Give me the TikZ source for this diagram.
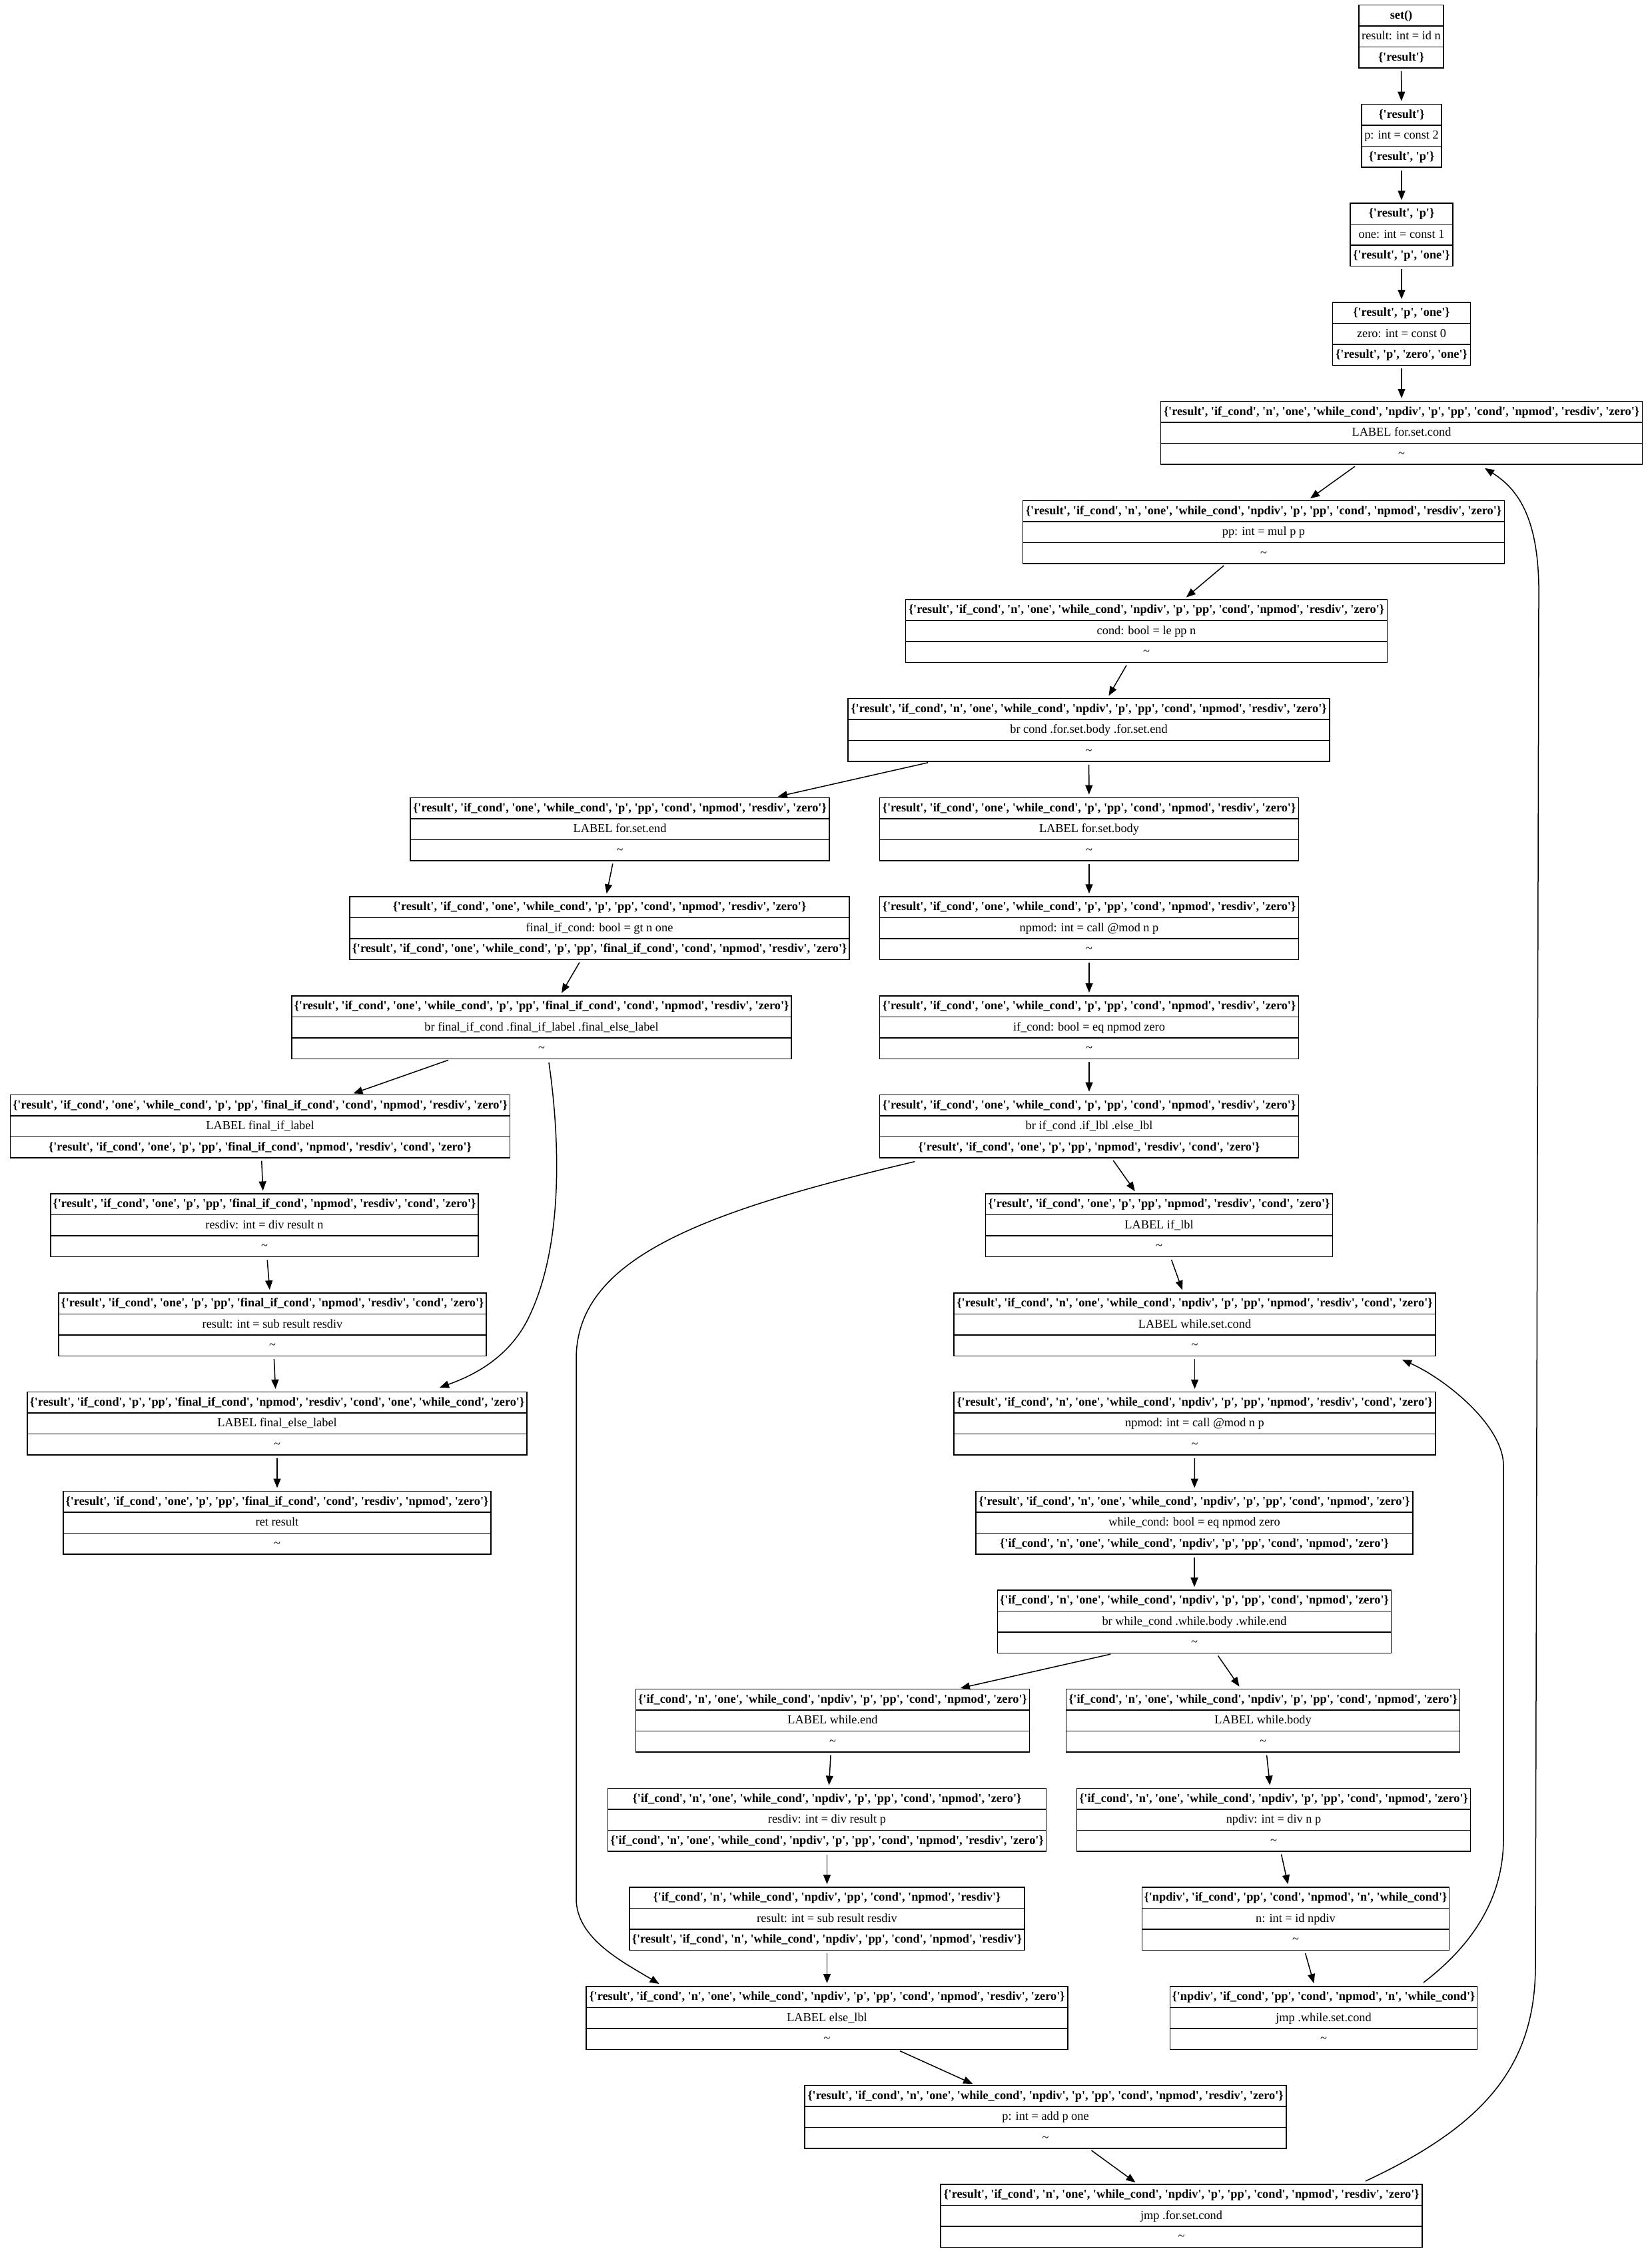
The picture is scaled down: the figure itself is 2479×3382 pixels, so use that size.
\documentclass[tikz,border=0pt]{standalone}
\usepackage{fontspec}
\newfontfamily\gv{Liberation Serif}
\usetikzlibrary{shapes.multipart,arrows.meta,calc}
\newcommand\st{\rule[-10pt]{0pt}{30pt}}
\newcommand\tld{\textasciitilde}
\newcommand\Sa{\{'result', 'if\_cond', 'n', 'one', 'while\_cond', 'npdiv', 'p', 'pp', 'cond', 'npmod', 'resdiv', 'zero'\}}
\newcommand\Sb{\{'result', 'if\_cond', 'one', 'while\_cond', 'p', 'pp', 'cond', 'npmod', 'resdiv', 'zero'\}}
\newcommand\Sc{\{'result', 'if\_cond', 'one', 'while\_cond', 'p', 'pp', 'final\_if\_cond', 'cond', 'npmod', 'resdiv', 'zero'\}}
\newcommand\Sd{\{'result', 'if\_cond', 'one', 'p', 'pp', 'final\_if\_cond', 'npmod', 'resdiv', 'cond', 'zero'\}}
\newcommand\Se{\{'result', 'if\_cond', 'one', 'p', 'pp', 'npmod', 'resdiv', 'cond', 'zero'\}}
\newcommand\Sf{\{'result', 'if\_cond', 'n', 'one', 'while\_cond', 'npdiv', 'p', 'pp', 'npmod', 'resdiv', 'cond', 'zero'\}}
\newcommand\Sg{\{'if\_cond', 'n', 'one', 'while\_cond', 'npdiv', 'p', 'pp', 'cond', 'npmod', 'zero'\}}
\newcommand\Sh{\{'npdiv', 'if\_cond', 'pp', 'cond', 'npmod', 'n', 'while\_cond'\}}
\newcommand\blk[7]{\node[rec, minimum width=#4pt] (#1) at (#2,{55+148.7*#3}) {\bfseries\st #5\nodepart{two}\mdseries\st #6\nodepart{three}\mdseries\st #7};}
\tikzset{
  rec/.style={draw, line width=1.5pt, rectangle split, rectangle split parts=3,
    inner xsep=3pt, inner ysep=0pt, font=\gv\fontsize{18.3}{22}\selectfont},
  edge/.style={-{Triangle[length=14pt,width=11pt]}, line width=1.5pt},
  sedge/.style={edge, shorten <=4pt, shorten >=4pt}
}
\begin{document}
\begin{tikzpicture}[x=1pt,y=-1pt]
\useasboundingbox (0,0) rectangle (2479,3382);
\fill[white] (0,0) rectangle (2479,3382);
\blk{n1}{2103.5}{0}{127}{set()}{result: int = id n}{\bfseries\{'result'\}}
\blk{n2}{2104}{1}{120}{\{'result'\}}{p: int = const 2}{\bfseries\{'result', 'p'\}}
\blk{n3}{2104}{2}{154}{\{'result', 'p'\}}{one: int = const 1}{\bfseries\{'result', 'p', 'one'\}}
\blk{n4}{2104}{3}{207}{\{'result', 'p', 'one'\}}{zero: int = const 0}{\bfseries\{'result', 'p', 'zero', 'one'\}}
\blk{forcond}{2104}{4}{723}{\Sa}{LABEL for.set.cond}{\tld}
\blk{pp}{1897}{5}{723}{\Sa}{pp: int = mul p p}{\tld}
\blk{cond}{1721}{6}{723}{\Sa}{cond: bool = le pp n}{\tld}
\blk{br}{1634.5}{7}{723}{\Sa}{br cond .for.set.body .for.set.end}{\tld}
\blk{forend}{930.5}{8}{629}{\Sb}{LABEL for.set.end}{\tld}
\blk{forbody}{1635}{8}{629}{\Sb}{LABEL for.set.body}{\tld}
\blk{fic}{900}{9}{750}{\Sb}{final\_if\_cond: bool = gt n one}{\bfseries\Sc}
\blk{npmodA}{1635}{9}{629}{\Sb}{npmod: int = call @mod n p}{\tld}
\blk{brfinal}{813}{10}{750}{\Sc}{br final\_if\_cond .final\_if\_label .final\_else\_label}{\tld}
\blk{ifcond}{1635}{10}{629}{\Sb}{if\_cond: bool = eq npmod zero}{\tld}
\blk{fil}{390.5}{11}{750}{\Sc}{LABEL final\_if\_label}{\bfseries\Sd}
\blk{brif}{1635}{11}{629}{\Sb}{br if\_cond .if\_lbl .else\_lbl}{\bfseries\Se}
\blk{resdivA}{397}{12}{642}{\Sd}{resdiv: int = div result n}{\tld}
\blk{iflbl}{1740}{12}{521}{\Se}{LABEL if\_lbl}{\tld}
\blk{resultA}{409}{13}{642}{\Sd}{result: int = sub result resdiv}{\tld}
\blk{whilecond}{1793.5}{13}{723}{\Sf}{LABEL while.set.cond}{\tld}
\blk{finalelse}{416}{14}{750}{\{'result', 'if\_cond', 'p', 'pp', 'final\_if\_cond', 'npmod', 'resdiv', 'cond', 'one', 'while\_cond', 'zero'\}}{LABEL final\_else\_label}{\tld}
\blk{npmodB}{1793.5}{14}{723}{\Sf}{npmod: int = call @mod n p}{\tld}
\blk{ret}{416}{15}{642}{\{'result', 'if\_cond', 'one', 'p', 'pp', 'final\_if\_cond', 'cond', 'resdiv', 'npmod', 'zero'\}}{ret result}{\tld}
\blk{whilec}{1793}{15}{656}{\{'result', 'if\_cond', 'n', 'one', 'while\_cond', 'npdiv', 'p', 'pp', 'cond', 'npmod', 'zero'\}}{while\_cond: bool = eq npmod zero}{\bfseries\Sg}
\blk{brwhile}{1793}{16}{591}{\Sg}{br while\_cond .while.body .while.end}{\tld}
\blk{whileend}{1250}{17}{591}{\Sg}{LABEL while.end}{\tld}
\blk{whilebody}{1896}{17}{591}{\Sg}{LABEL while.body}{\tld}
\blk{resdivB}{1241.5}{18}{658}{\Sg}{resdiv: int = div result p}{\bfseries\{'if\_cond', 'n', 'one', 'while\_cond', 'npdiv', 'p', 'pp', 'cond', 'npmod', 'resdiv', 'zero'\}}
\blk{npdiv}{1912}{18}{591}{\Sg}{npdiv: int = div n p}{\tld}
\blk{resultB}{1241.5}{19}{593}{\{'if\_cond', 'n', 'while\_cond', 'npdiv', 'pp', 'cond', 'npmod', 'resdiv'\}}{result: int = sub result resdiv}{\bfseries\{'result', 'if\_cond', 'n', 'while\_cond', 'npdiv', 'pp', 'cond', 'npmod', 'resdiv'\}}
\blk{nid}{1945}{19}{461}{\Sh}{n: int = id npdiv}{\tld}
\blk{elselbl}{1241.5}{20}{723}{\Sa}{LABEL else\_lbl}{\tld}
\blk{jmpwhile}{1987}{20}{461}{\Sh}{jmp .while.set.cond}{\tld}
\blk{padd}{1569.5}{21}{723}{\Sa}{p: int = add p one}{\tld}
\blk{jmpfor}{1773.5}{22}{723}{\Sa}{jmp .for.set.cond}{\tld}
% straight edges
\draw[sedge] (n1) -- (n2);
\draw[sedge] (n2) -- (n3);
\draw[sedge] (n3) -- (n4);
\draw[sedge] (n4) -- (forcond);
\draw[sedge] (forcond) -- (pp);
\draw[sedge] (pp) -- (cond);
\draw[sedge] (cond) -- (br);
\draw[sedge] ($(br.south)+(-237.5,0)$) -- ($(forend.north)+(233.5,0)$);
\draw[sedge] (br) -- (forbody);
\draw[sedge] (forend) -- (fic);
\draw[sedge] (fic) -- (brfinal);
\draw[sedge] (brfinal) -- (fil);
\draw[sedge] (fil) -- (resdivA);
\draw[sedge] (resdivA) -- (resultA);
\draw[sedge] (resultA) -- (finalelse);
\draw[sedge] (finalelse) -- (ret);
\draw[sedge] (forbody) -- (npmodA);
\draw[sedge] (npmodA) -- (ifcond);
\draw[sedge] (ifcond) -- (brif);
\draw[sedge] (brif) -- (iflbl);
\draw[sedge] (iflbl) -- (whilecond);
\draw[sedge] (whilecond) -- (npmodB);
\draw[sedge] (npmodB) -- (whilec);
\draw[sedge] (whilec) -- (brwhile);
\draw[sedge] ($(brwhile.south)+(-122,0)$) -- ($(whileend.north)+(188,0)$);
\draw[sedge] (brwhile) -- (whilebody);
\draw[sedge] (whileend) -- (resdivB);
\draw[sedge] (resdivB) -- (resultB);
\draw[sedge] (resultB) -- (elselbl);
\draw[sedge] (whilebody) -- (npdiv);
\draw[sedge] (npdiv) -- (nid);
\draw[sedge] (nid) -- (jmpwhile);
\draw[sedge] (elselbl) -- (padd);
\draw[sedge] (padd) -- (jmpfor);
% curved edges
\draw[edge] ($(brfinal.south)+(11,5)$) .. controls (842,1720) and (845,1880) .. (790,1985)
  .. controls (760,2040) and (710,2065) .. ($(finalelse.north)+(244,-6)$);
\draw[edge] ($(brif.south)+(-262,5)$) .. controls (1050,1820) and (865,1890) .. (865,2040)
  -- (865,2850) .. controls (865,2910) and (935,2945) .. ($(elselbl.north)+(-252,-3)$);
\draw[edge] ($(jmpwhile.north)+(150,-5)$) .. controls (2210,2920) and (2257,2850) .. (2257,2760)
  -- (2257,2200) .. controls (2257,2140) and (2170,2070) .. ($(whilecond.south)+(311.5,5)$);
\draw[edge] ($(jmpfor.north)+(276.5,-4.4)$) .. controls (2230,3190) and (2305,3100) .. (2305,2950)
  -- (2310,900) .. controls (2312,780) and (2280,735) .. ($(forcond.south)+(125,5)$);
\end{tikzpicture}
\end{document}
